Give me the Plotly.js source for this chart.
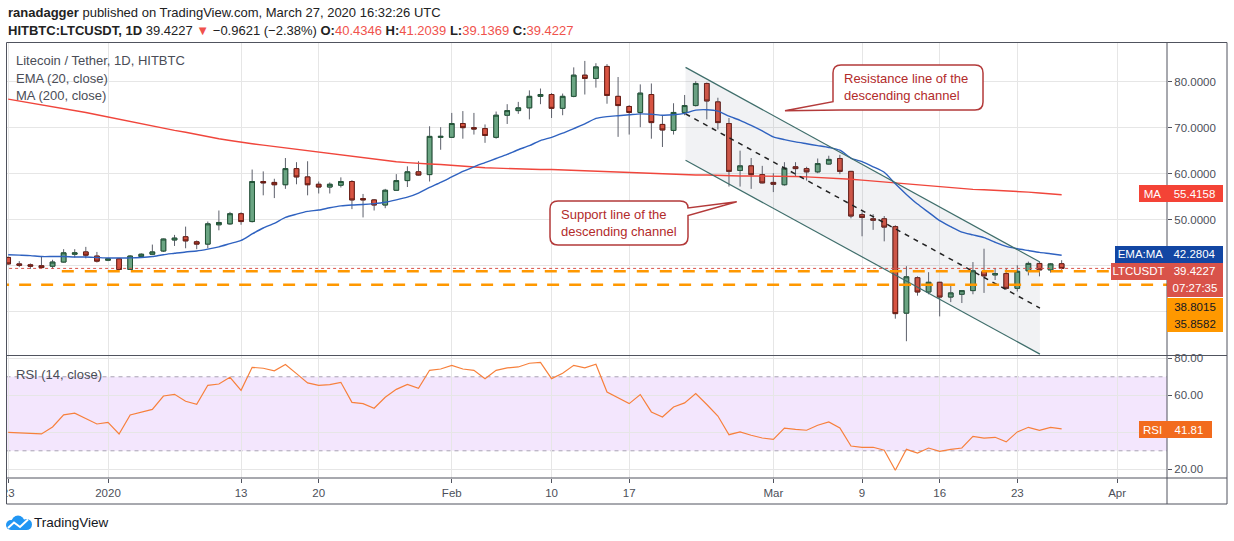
<!DOCTYPE html>
<html>
<head>
<meta charset="utf-8">
<script src="https://cdn.plot.ly/plotly-3.0.1.min.js"></script>
<style>
  html, body { margin: 0; padding: 0; background: #fff; }
  #chart { width: 1234px; height: 541px; }
</style>
</head>
<body>
<div id="chart"></div>
<script>
// LTC/USDT daily, HITBTC
const dates = [
  '2019-12-23','2019-12-24','2019-12-25','2019-12-26','2019-12-27','2019-12-28','2019-12-29','2019-12-30','2019-12-31',
  '2020-01-01','2020-01-02','2020-01-03','2020-01-04','2020-01-05','2020-01-06','2020-01-07','2020-01-08','2020-01-09','2020-01-10',
  '2020-01-11','2020-01-12','2020-01-13','2020-01-14','2020-01-15','2020-01-16','2020-01-17','2020-01-18','2020-01-19','2020-01-20',
  '2020-01-21','2020-01-22','2020-01-23','2020-01-24','2020-01-25','2020-01-26','2020-01-27','2020-01-28','2020-01-29','2020-01-30','2020-01-31',
  '2020-02-01','2020-02-02','2020-02-03','2020-02-04','2020-02-05','2020-02-06','2020-02-07','2020-02-08','2020-02-09','2020-02-10',
  '2020-02-11','2020-02-12','2020-02-13','2020-02-14','2020-02-15','2020-02-16','2020-02-17','2020-02-18','2020-02-19','2020-02-20',
  '2020-02-21','2020-02-22','2020-02-23','2020-02-24','2020-02-25','2020-02-26','2020-02-27','2020-02-28','2020-02-29',
  '2020-03-01','2020-03-02','2020-03-03','2020-03-04','2020-03-05','2020-03-06','2020-03-07','2020-03-08','2020-03-09','2020-03-10',
  '2020-03-11','2020-03-12','2020-03-13','2020-03-14','2020-03-15','2020-03-16','2020-03-17','2020-03-18','2020-03-19','2020-03-20',
  '2020-03-21','2020-03-22','2020-03-23','2020-03-24','2020-03-25','2020-03-26','2020-03-27'
];

const open = [41.8,40.4,40.2,40.0,39.9,40.8,42.5,43.0,42.1,
  41.2,41.5,39.2,42.0,42.5,43.2,45.6,46.3,45.2,44.7,48.9,49.1,51.3,49.6,58.3,58.1,57.6,61.1,59.3,57.7,57.1,57.5,58.3,54.6,54.3,53.2,56.4,58.5,60.4,59.8,67.9,
  67.9,70.9,70.0,69.8,67.9,72.7,73.7,74.3,76.8,77.2,74.2,76.8,81.4,80.7,83.3,76.8,74.6,73.3,77.2,70.7,69.4,73.3,74.8,79.6,75.6,70.9,60.7,61.7,59.8,
  58.1,57.6,61.5,61.1,60.4,62.1,63.3,60.5,51.1,50.2,50.2,48.5,29.7,37.4,34.3,36.4,33.2,33.8,34.6,38.7,38.0,38.3,35.1,38.9,40.5,39.1,40.4346];
const high = [42.0,41.0,40.5,41.9,41.3,43.6,43.6,44.1,43.0,
  41.7,41.7,42.3,42.7,44.6,45.9,46.7,48.5,45.5,49.6,52.0,51.7,51.6,60.9,60.5,58.9,63.4,62.5,62.7,58.3,58.1,59.2,58.6,55.6,54.5,56.7,59.9,61.6,62.7,70.3,70.1,
  73.2,73.6,73.2,70.7,73.5,75.1,75.6,78.1,78.5,77.5,77.4,83.1,84.5,84.0,83.8,81.0,74.9,79.4,79.6,72.7,75.3,77.1,80.1,79.8,76.5,72.1,65.0,63.4,61.7,
  60.1,62.5,62.5,61.5,63.3,63.9,64.1,60.6,51.6,51.2,50.8,48.8,39.9,37.7,38.6,36.5,35.7,34.7,40.8,43.7,39.5,39.5,40.1,40.9,40.8,40.6,41.2039];
const low = [40.2,39.7,39.3,39.4,39.3,40.7,41.8,41.6,40.7,
  41.0,39.1,39.1,41.8,42.4,43.0,44.3,43.8,43.6,43.8,47.7,48.9,48.9,49.4,55.3,54.7,56.7,57.7,55.3,55.7,55.7,57.0,52.3,50.5,52.0,52.5,56.4,57.1,59.6,58.3,65.2,
  67.9,67.6,68.5,66.7,67.6,70.8,73.0,71.8,75.1,72.1,72.7,76.6,77.2,78.7,75.2,68.0,68.5,70.1,67.6,65.8,68.5,72.7,74.6,71.8,69.6,57.2,57.2,56.7,57.9,
  56.0,57.4,59.4,58.5,60.1,62.0,59.9,50.3,46.4,47.8,45.3,28.5,23.6,33.5,33.8,29.0,32.1,31.9,33.8,34.1,36.9,34.8,34.4,37.9,37.7,38.5,39.1369];
const close = [40.4,40.1,39.9,39.6,40.8,42.8,42.8,42.3,41.0,
  41.5,39.2,42.1,42.5,43.0,45.8,46.0,45.4,44.7,49.1,49.4,51.3,49.6,58.3,58.0,57.6,61.1,59.3,57.6,57.1,57.7,58.3,54.3,54.3,53.2,56.4,58.5,60.4,59.7,68.1,68.1,
  70.9,70.0,69.7,68.3,72.7,73.7,74.3,76.8,77.2,74.2,76.8,81.4,80.7,83.2,77.0,74.8,73.3,77.5,71.1,69.5,73.3,74.8,79.6,75.8,71.1,60.5,61.7,59.8,58.0,
  57.7,61.2,61.1,60.4,62.2,63.1,60.5,50.8,50.5,49.9,48.4,29.6,37.6,34.3,36.4,33.2,34.1,34.6,38.9,37.8,38.3,35.1,38.8,40.5,39.1,40.4,39.4227];

const ema20 = [42.4,42.3,42.2,42.0,42.0,42.0,41.9,41.9,41.8,
  41.7,41.7,41.7,41.8,42.0,42.4,42.7,43.0,43.2,43.6,44.1,44.8,45.5,46.9,48.2,49.2,50.5,51.2,51.8,52.1,52.6,53.0,53.2,53.3,53.5,53.8,54.3,54.9,55.8,57.0,58.1,
  59.3,60.5,61.5,62.4,63.3,64.2,65.2,66.1,67.2,67.9,68.8,69.8,70.8,72.0,72.4,72.6,72.8,73.0,72.9,72.7,72.8,73.1,73.8,73.9,73.6,72.5,71.6,70.5,69.3,
  68.0,67.4,66.9,66.5,66.1,65.7,65.1,63.4,62.6,61.5,60.3,57.8,55.5,53.4,51.6,49.8,48.5,47.3,46.7,46.1,45.1,44.2,43.7,43.3,42.9,42.6,42.2804];
const ma200 = [76.2,75.8,75.4,75.0,74.6,74.2,73.8,73.3,72.8,
  72.3,71.8,71.3,70.8,70.3,69.9,69.4,69.0,68.5,68.1,67.6,67.2,66.8,66.5,66.2,65.9,65.6,65.3,65.0,64.7,64.4,64.1,63.7,63.4,63.1,62.8,62.6,62.4,62.2,62.1,62.0,
  61.8,61.6,61.4,61.3,61.2,61.1,61.0,61.0,60.9,60.9,60.8,60.7,60.6,60.6,60.5,60.4,60.3,60.2,60.1,60.0,59.9,59.8,59.7,59.7,59.6,59.6,59.5,59.5,59.5,
  59.4,59.4,59.4,59.3,59.2,59.1,59.0,58.8,58.6,58.4,58.2,57.9,57.7,57.5,57.3,57.1,56.9,56.7,56.6,56.5,56.4,56.3,56.2,56.0,55.8,55.6,55.4158];
const rsi14 = [40.0,39.6,39.2,39.1,42.9,49.4,50.3,47.4,44.5,
  45.4,39.1,49.4,51.0,52.4,59.6,60.5,56.8,55.1,65.4,66.1,69.7,62.7,75.1,74.6,73.2,76.6,71.7,66.7,65.4,65.8,67.0,56.2,55.5,53.0,58.9,63.2,65.9,63.8,73.5,74.2,
  76.2,74.2,73.5,69.0,73.5,74.8,75.3,77.3,77.8,69.0,71.9,76.2,74.8,76.8,61.8,58.6,55.5,60.4,51.0,48.3,53.7,55.9,60.9,55.0,48.8,38.7,40.2,38.4,36.9,
  36.2,42.3,41.6,41.1,43.8,45.6,42.3,32.6,31.9,31.9,30.3,19.5,30.8,28.8,31.5,29.7,30.8,31.5,37.8,36.9,37.3,34.8,40.2,42.7,41.1,42.7,41.81];

// drawn channel (two anchor points each)
const channelDates = ['2020-02-22 02:00', '2020-03-25 01:00'];
const resistance = [83.1, 40.8];
const support = [62.9, 20.8];
const midline = [73.0, 30.8];

// horizontal levels
const levelStarts = ['2019-12-27 20:00', '2019-12-22'];
const levels = [38.8015, 35.8582];
const lastPrice = 39.4227;

const xTickVals = ['2019-12-23','2020-01-01','2020-01-13','2020-01-20','2020-02-01','2020-02-10',
  '2020-02-17','2020-03-01','2020-03-09','2020-03-16','2020-03-23','2020-04-01'];
const xTickText = ['23','2020','13','20','Feb','10','17','Mar','9','16','23','Apr'];

// price scale: 30 and 40 sit under the price tags, so their text is left empty
const priceTickVals = [30, 40, 50, 60, 70, 80];
const priceTickText = ['', '', '50.0000', '60.0000', '70.0000', '80.0000'];
const rsiTickVals = [20, 40, 60, 80];
const rsiTickText = ['20.00', '', '60.00', '80.00'];

const W = 1234, H = 541;
const fx = x => x / W;
const fy = y => 1 - y / H;
const FONT = '"Liberation Sans", Arial, sans-serif';
const rightEdge = '2020-04-07';

const bodyHigh = open.map((o, i) => Math.max(o, close[i]));
const bodyLow = open.map((o, i) => Math.min(o, close[i]));

const traces = [
  {
    x: [channelDates[0], channelDates[1], channelDates[1], channelDates[0]],
    y: [resistance[0], resistance[1], support[1], support[0]],
    type: 'scatter', mode: 'lines', fill: 'toself',
    fillcolor: 'rgba(96,108,130,0.09)', line: { width: 0 }, hoverinfo: 'skip'
  },
  {
    x: dates, y: ma200, type: 'scatter', mode: 'lines',
    line: { color: '#f0463c', width: 1.4 }, hoverinfo: 'skip'
  },
  {
    x: dates, y: ema20, type: 'scatter', mode: 'lines', line: { color: '#2f62c0', width: 1.4, shape: 'spline', smoothing: 0.6 },
    hoverinfo: 'skip'
  },
  // wicks
  {
    x: dates, open: open, high: high, low: low, close: close, type: 'candlestick',
    increasing: { line: { color: '#5d606b', width: 1 }, fillcolor: '#5d606b' },
    decreasing: { line: { color: '#5d606b', width: 1 }, fillcolor: '#5d606b' },
    whiskerwidth: 0, hoverinfo: 'skip'
  },
  // bodies
  {
    x: dates, open: open, high: bodyHigh, low: bodyLow, close: close, type: 'candlestick',
    increasing: { line: { color: '#225437', width: 1 }, fillcolor: '#6ba583' },
    decreasing: { line: { color: '#6b1d14', width: 1 }, fillcolor: '#d75442' },
    whiskerwidth: 0, hoverinfo: 'skip'
  },
  {
    x: channelDates, y: resistance, type: 'scatter', mode: 'lines',
    line: { color: '#3f6e6b', width: 1.2 }, hoverinfo: 'skip'
  },
  {
    x: channelDates, y: support, type: 'scatter', mode: 'lines',
    line: { color: '#3f6e6b', width: 1.2 }, hoverinfo: 'skip'
  },
  {
    x: channelDates, y: midline, type: 'scatter', mode: 'lines',
    line: { color: '#222222', width: 1.5, dash: '5px,5px' }, hoverinfo: 'skip'
  },
  {
    x: [levelStarts[0], rightEdge], y: [levels[0], levels[0]], type: 'scatter', mode: 'lines',
    line: { color: '#ff9800', width: 2.5, dash: '12px,11px' }, hoverinfo: 'skip'
  },
  {
    x: [levelStarts[1], rightEdge], y: [levels[1], levels[1]], type: 'scatter', mode: 'lines',
    line: { color: '#ff9800', width: 2.5, dash: '12px,10px' }, hoverinfo: 'skip'
  },
  {
    x: ['2019-12-22', rightEdge], y: [lastPrice, lastPrice], type: 'scatter', mode: 'lines',
    line: { color: '#d9534a', width: 1, dash: 'dot' }, hoverinfo: 'skip'
  },
  {
    x: dates, y: rsi14, type: 'scatter', mode: 'lines', yaxis: 'y2',
    line: { color: '#f7803c', width: 1.2 }, hoverinfo: 'skip'
  }
];

function P(x, y) { return fx(x).toFixed(5) + ',' + fy(y).toFixed(5); }

const resistanceCallout = 'M' + P(841, 65) + ' L' + P(975, 65) + ' Q' + P(983, 65) + ' ' + P(983, 73) +
  ' L' + P(983, 102) + ' Q' + P(983, 110) + ' ' + P(975, 110) + ' L' + P(841, 110) +
  ' L' + P(785, 110.7) + ' L' + P(833, 101.7) + ' L' + P(833, 73) + ' Q' + P(833, 65) + ' ' + P(841, 65) + ' Z';
const supportCallout = 'M' + P(558, 201) + ' L' + P(680, 201) + ' Q' + P(688, 201) + ' ' + P(688, 208) +
  ' L' + P(736.7, 201.7) + ' L' + P(688, 215.5) + ' L' + P(688, 237) + ' Q' + P(688, 245) + ' ' + P(680, 245) +
  ' L' + P(558, 245) + ' Q' + P(550, 245) + ' ' + P(550, 237) + ' L' + P(550, 209) + ' Q' + P(550, 201) + ' ' + P(558, 201) + ' Z';

const frameColor = '#50535e';
const shapes = [
  { type: 'rect', xref: 'paper', yref: 'y2', x0: fx(6.5), x1: fx(1167), y0: 30, y1: 70,
    fillcolor: '#f3e6fd', line: { width: 0 }, layer: 'below' },
  { type: 'line', xref: 'paper', yref: 'y2', x0: fx(6.5), x1: fx(1167), y0: 70, y1: 70,
    line: { color: '#a9a3b3', width: 1, dash: '4px,4px' }, layer: 'below' },
  { type: 'line', xref: 'paper', yref: 'y2', x0: fx(6.5), x1: fx(1167), y0: 30, y1: 30,
    line: { color: '#a9a3b3', width: 1, dash: '4px,4px' }, layer: 'below' },
  { type: 'path', xref: 'paper', yref: 'paper', path: resistanceCallout,
    fillcolor: '#ffffff', line: { color: '#b33a3a', width: 1.5 }, layer: 'above' },
  { type: 'path', xref: 'paper', yref: 'paper', path: supportCallout,
    fillcolor: '#ffffff', line: { color: '#b33a3a', width: 1.5 }, layer: 'above' },
  // hide the part of the first date label that falls left of the frame
  { type: 'rect', xref: 'paper', yref: 'paper', x0: 0, x1: fx(6.5), y0: fy(503), y1: fy(479),
    fillcolor: '#ffffff', line: { width: 0 }, layer: 'above' },
  { type: 'rect', xref: 'paper', yref: 'paper', x0: fx(6.5), x1: fx(1227), y0: fy(504), y1: fy(42.5),
    line: { color: frameColor, width: 1 }, layer: 'above' },
  { type: 'line', xref: 'paper', yref: 'paper', x0: fx(1167), x1: fx(1167), y0: fy(504), y1: fy(42.5),
    line: { color: frameColor, width: 1 }, layer: 'above' },
  { type: 'line', xref: 'paper', yref: 'paper', x0: fx(6.5), x1: fx(1227), y0: fy(355.5), y1: fy(355.5),
    line: { color: frameColor, width: 1 }, layer: 'above' },
  { type: 'line', xref: 'paper', yref: 'paper', x0: fx(6.5), x1: fx(1227), y0: fy(478), y1: fy(478),
    line: { color: frameColor, width: 1 }, layer: 'above' },
  // TradingView logo cloud
  { type: 'circle', xref: 'paper', yref: 'paper', x0: fx(6), x1: fx(16), y0: fy(530), y1: fy(520),
    fillcolor: '#2196f3', line: { width: 0 }, layer: 'above' },
  { type: 'circle', xref: 'paper', yref: 'paper', x0: fx(11.5), x1: fx(24.5), y0: fy(528.5), y1: fy(515.5),
    fillcolor: '#2196f3', line: { width: 0 }, layer: 'above' },
  { type: 'circle', xref: 'paper', yref: 'paper', x0: fx(21), x1: fx(32), y0: fy(530), y1: fy(519),
    fillcolor: '#2196f3', line: { width: 0 }, layer: 'above' },
  { type: 'rect', xref: 'paper', yref: 'paper', x0: fx(11), x1: fx(27), y0: fy(530), y1: fy(524),
    fillcolor: '#2196f3', line: { width: 0 }, layer: 'above' },
  { type: 'path', xref: 'paper', yref: 'paper',
    path: 'M' + P(8, 528) + ' L' + P(14, 522.5) + ' L' + P(20, 527) + ' L' + P(28, 519.5),
    line: { color: '#ffffff', width: 2 }, layer: 'above' }
];

function label(txt, x, y, size, color, anchor) {
  return { xref: 'paper', yref: 'paper', x: fx(x), y: fy(y), text: txt, showarrow: false,
    xanchor: anchor || 'left', yanchor: 'middle', align: 'left', borderpad: 0,
    font: { family: FONT, size: size, color: color } };
}
function tag(txt, x0, x1, y0, y1, bg, color) {
  return { xref: 'paper', yref: 'paper', x: fx((x0 + x1) / 2), y: fy((y0 + y1) / 2),
    xanchor: 'center', yanchor: 'middle', text: txt, showarrow: false, bgcolor: bg,
    width: x1 - x0, height: y1 - y0, borderpad: 0, borderwidth: 0,
    font: { family: FONT, size: 11.5, color: color } };
}

const red = '#f0524c';
const header2 = '<b>HITBTC:LTCUSDT, 1D</b> 39.4227 <span style="color:' + red + '">▼</span> −0.9621 (−2.38%) ' +
  '<b>O:</b><span style="color:' + red + '">40.4346</span> <b>H:</b><span style="color:' + red + '">41.2039</span> ' +
  '<b>L:</b><span style="color:' + red + '">39.1369</span> <b>C:</b><span style="color:' + red + '">39.4227</span>';

const calloutColor = '#b22b2b';
const annotations = [
  label('<b>ranadagger</b> published on TradingView.com, March 27, 2020 16:32:26 UTC', 7, 13, 13, '#222'),
  label(header2, 7, 30, 13, '#222'),
  label('Litecoin / Tether, 1D, HITBTC', 15, 61, 13, '#4a4d57'),
  label('EMA (20, close)', 15, 78, 13, '#4a4d57'),
  label('MA (200, close)', 15, 95, 13, '#4a4d57'),
  label('RSI (14, close)', 15, 374, 13, '#4a4d57'),
  label('Resistance line of the<br>descending channel', 843, 87.5, 13, calloutColor),
  label('Support line of the<br>descending channel', 560, 223, 13, calloutColor),
  label('TradingView', 33, 522.5, 13.5, '#131722'),
  tag('MA', 1139, 1166, 185, 202, '#f44336', '#ffffff'),
  tag('55.4158', 1166, 1223, 185, 202, '#f44336', '#ffffff'),
  tag('EMA:MA', 1115, 1166, 246, 262.5, '#1246a3', '#ffffff'),
  tag('42.2804', 1166, 1223, 246, 262.5, '#1246a3', '#ffffff'),
  tag('LTCUSDT', 1111, 1166, 263, 279.5, '#d9534a', '#ffffff'),
  tag('39.4227', 1166, 1223, 263, 279.5, '#d9534a', '#ffffff'),
  tag('07:27:35', 1167, 1223, 280.5, 297, '#d9534a', '#ffffff'),
  tag('38.8015', 1167, 1223, 298, 315, '#ff9800', '#131722'),
  tag('35.8582', 1167, 1223, 315, 332, '#ff9800', '#131722'),
  tag('RSI', 1139, 1166, 421, 438, '#f26b1d', '#ffffff'),
  tag('41.81', 1166, 1212, 421, 438, '#f26b1d', '#ffffff')
];

const axisFont = { family: FONT, size: 11.5, color: '#4c4f59' };
const layout = {
  width: W, height: H,
  margin: { l: 0, r: 0, t: 0, b: 0 },
  paper_bgcolor: '#ffffff', plot_bgcolor: '#ffffff',
  showlegend: false, hovermode: false, boxgap: 0.4,
  xaxis: {
    type: 'date', domain: [fx(6.5), fx(1167)], anchor: 'y2',
    range: ['2019-12-22 20:20', '2020-04-05 12:00'],
    tickvals: xTickVals, ticktext: xTickText, tickfont: axisFont,
    ticks: 'outside', ticklen: 4, tickcolor: frameColor,
    showgrid: true, gridcolor: '#e6e6e6', gridwidth: 1,
    showline: false, zeroline: false, rangeslider: { visible: false }, fixedrange: true
  },
  yaxis: {
    domain: [fy(355.5), fy(42.5)], anchor: 'x', side: 'right',
    range: [20.5, 88.5], tickvals: priceTickVals, ticktext: priceTickText,
    tickfont: axisFont, ticks: 'outside', ticklen: 4, tickcolor: frameColor,
    showgrid: true, gridcolor: '#e6e6e6', showline: false, zeroline: false, fixedrange: true
  },
  yaxis2: {
    domain: [fy(478), fy(355.5)], anchor: 'x', side: 'right',
    range: [15.3, 81.5], tickvals: rsiTickVals, ticktext: rsiTickText,
    tickfont: axisFont, ticks: 'outside', ticklen: 4, tickcolor: frameColor,
    showgrid: true, gridcolor: '#e6e6e6', showline: false, zeroline: false, fixedrange: true
  },
  shapes: shapes,
  annotations: annotations
};

Plotly.newPlot('chart', traces, layout, { displayModeBar: false, staticPlot: true });
</script>
</body>
</html>
